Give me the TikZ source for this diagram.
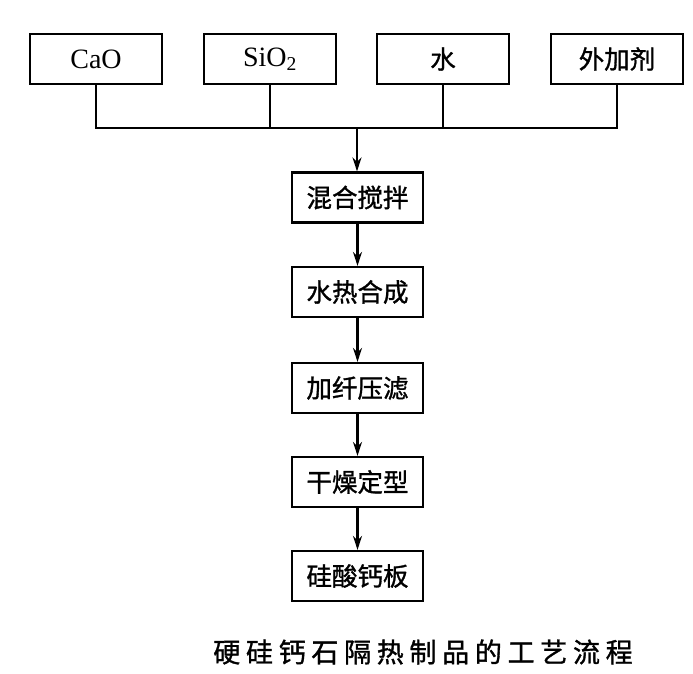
\documentclass[tikz,border=0pt]{standalone}
\usepackage{fontspec}
\setmainfont{Liberation Serif}
\newfontfamily\cjk[FakeBold=1.2]{Noto Sans CJK SC}
\usetikzlibrary{arrows.meta}
\begin{document}
\begin{tikzpicture}[x=1pt,y=-1pt,
  inbox/.style={draw,line width=2.2pt,minimum width=132pt,minimum height=50pt,inner sep=0pt,font=\fontsize{28}{30}\selectfont},
  stepbox/.style={draw,line width=2.2pt,minimum width=131pt,minimum height=50pt,inner sep=0pt,font=\cjk\fontsize{25.5}{28}\selectfont},
  wire/.style={line width=2.2pt},
  flow/.style={line width=2.2pt,-{Stealth[length=14pt,width=9pt]}}]
\useasboundingbox (0,0) rectangle (693,674);
\node[inbox] (cao) at (96,59) {CaO};
\node[inbox] (sio) at (270,59) {SiO\textsubscript{2}};
\node[inbox,font=\cjk\fontsize{25.5}{28}\selectfont] (shui) at (443,59) {水};
\node[inbox,font=\cjk\fontsize{25.5}{28}\selectfont] (wai) at (617,59) {外加剂};
\coordinate (bus) at (357,128);
\node[stepbox] (mix) at (357.5,197.5) {混合搅拌};
\node[stepbox] (hyd) at (357.5,292) {水热合成};
\node[stepbox] (fil) at (357.5,388) {加纤压滤};
\node[stepbox] (dry) at (357.5,482) {干燥定型};
\node[stepbox] (board) at (357.5,576) {硅酸钙板};
\node[font=\cjk\fontsize{27}{30}\selectfont,inner sep=0pt] (cap) at (423,652) {硬\kern5.7pt 硅\kern5.7pt 钙\kern5.7pt 石\kern5.7pt 隔\kern5.7pt 热\kern5.7pt 制\kern5.7pt 品\kern5.7pt 的\kern5.7pt 工\kern5.7pt 艺\kern5.7pt 流\kern5.7pt 程};
\draw[wire] (cao.south) -- (cao.south |- bus) -- (wai.south |- bus) -- (wai.south);
\draw[wire] (sio.south) -- (sio.south |- bus);
\draw[wire] (shui.south) -- (shui.south |- bus);
\draw[flow] (bus) -- (bus |- mix.north);
\draw[flow] (mix) -- (hyd);
\draw[flow] (hyd) -- (fil);
\draw[flow] (fil) -- (dry);
\draw[flow] (dry) -- (board);
\end{tikzpicture}
\end{document}
